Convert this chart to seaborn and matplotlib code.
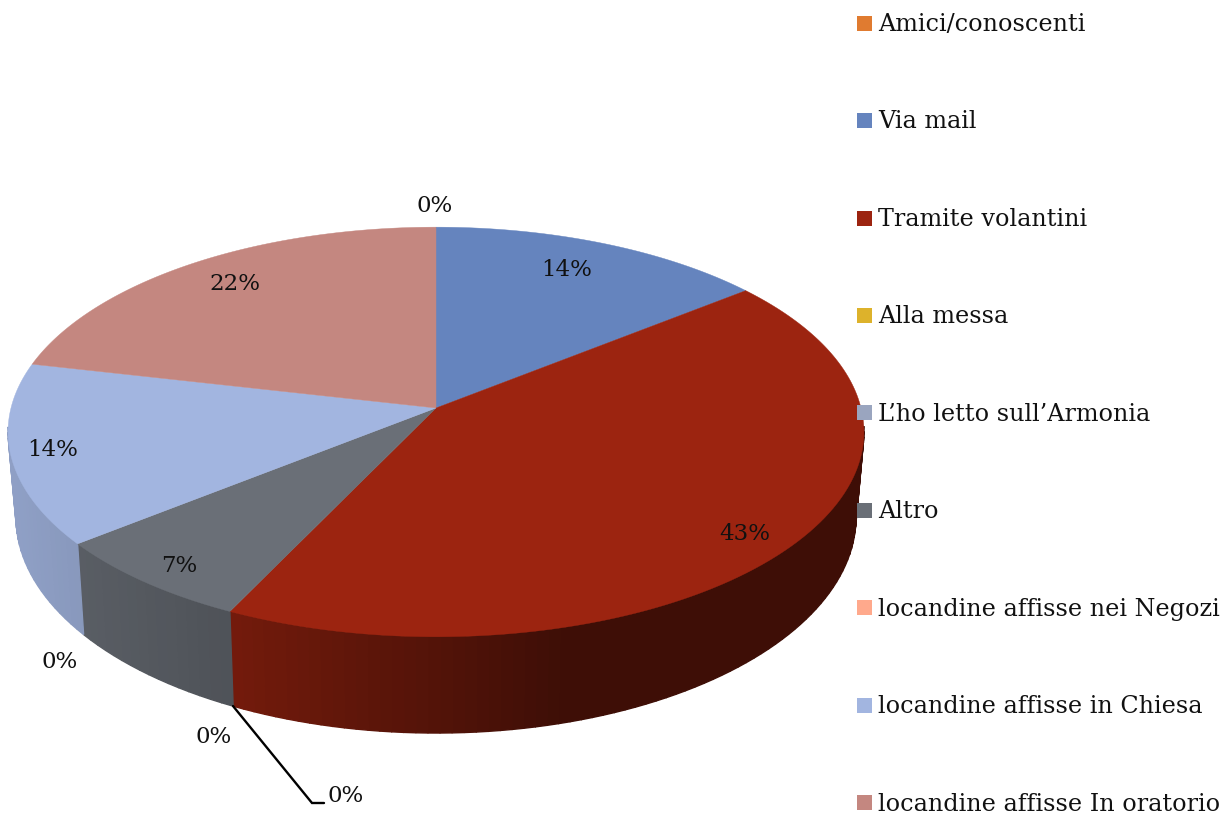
import numpy as np
import seaborn as sns
import matplotlib.pyplot as plt
from matplotlib.lines import Line2D

# survey answers (counts), slices go clockwise from 12 o'clock
categories = ['Amici/conoscenti', 'Via mail', 'Tramite volantini', 'Alla messa',
              'L\u2019ho letto sull\u2019Armonia', 'Altro', 'locandine affisse nei Negozi',
              'locandine affisse in Chiesa', 'locandine affisse In oratorio']
counts = [0, 2, 6, 0, 0, 1, 0, 2, 3]
pct_labels = ['0%', '14%', '43%', '0%', '0%', '7%', '0%', '14%', '22%']
colors = ['#E07B30', '#6584BE', '#9C2410', '#DDB22B', '#9AA5BF',
          '#6A6F77', '#FFA98C', '#A2B5E0', '#C48780']

# where the labels sit on the page, in pixels
label_xy = [(435, 206), (567, 270), (745, 534), (214, 737), (346, 796),
            (179, 566), (60, 662), (53, 450), (235, 284)]

CX, CY = 436, 408


def top_rim(th):
    x, y = np.sin(th), np.cos(th)
    d = 1 + 0.117 * y
    return CX + 425 * x / d, CY - 202 * y / d


def bottom_rim(th):
    x, y = np.sin(th), np.cos(th)
    d = 1 + 0.12 * y
    return CX + 417 * x / d, CY + 83 - 213 * y / d


def shade(px):
    return np.interp(px, [16, 80, 230, 560, 864], [0.88, 0.84, 0.74, 0.40, 0.40])


sns.set_theme(style='white')
plt.rcParams['font.family'] = ['DejaVu Serif']
palette = sns.color_palette(colors)

fig = plt.figure(figsize=(12.26, 8.15), dpi=100)
ax = fig.add_axes([0, 0, 1, 1])
ax.set_xlim(0, 1226)
ax.set_ylim(815, 0)
ax.axis('off')

fracs = np.array(counts) / sum(counts)
ends = np.cumsum(fracs) * 2 * np.pi
starts = ends - fracs * 2 * np.pi

# side wall first, the top face then covers whatever is behind it
for s, e, c in zip(starts, ends, palette):
    if e - s == 0:
        continue
    ths = np.linspace(s, e, max(int((e - s) * 40), 2))
    for a, b in zip(ths[:-1], ths[1:]):
        if np.cos((a + b) / 2) > -0.1:
            continue
        xa, ya = top_rim(a)
        xb, yb = top_rim(b)
        xc, yc = bottom_rim(b)
        xd, yd = bottom_rim(a)
        col = np.array(c) * shade((xa + xb) / 2)
        ax.fill([xa, xb, xc, xd], [ya, yb, yc, yd], color=col, lw=1.0)

for s, e, c in zip(starts, ends, palette):
    if e - s == 0:
        continue
    ths = np.linspace(s, e, 200)
    xs, ys = top_rim(ths)
    ax.fill(np.r_[CX, xs], np.r_[CY, ys], color=c, lw=0.3)

for txt, (x, y) in zip(pct_labels, label_xy):
    ax.text(x, y, txt, ha='center', va='center', fontsize=16.5, color='#111111')

ax.plot([233, 312, 324], [706, 803, 803], color='black', lw=1.7, solid_joinstyle='miter')

handles = [Line2D([], [], ls='none', marker='s', ms=10.8, mfc=c, mec=c, mew=0) for c in palette]
ax.legend(handles, categories, loc='upper left', bbox_to_anchor=(853.75 / 1226, 1 - 13 / 815),
          frameon=False, fontsize=17.2, labelspacing=3.117, handlelength=0.9, handletextpad=0.115,
          borderpad=0, borderaxespad=0, labelcolor='#111111')

plt.savefig('out.png', dpi=100)
